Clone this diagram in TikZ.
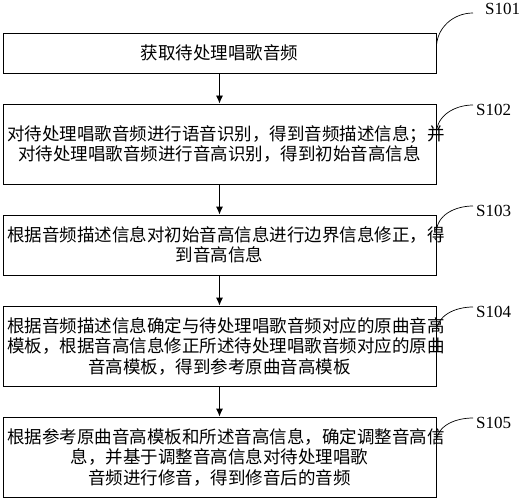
\documentclass[tikz,border=0pt]{standalone}
\usepackage{fontspec}
\setmainfont{Liberation Serif}
\newfontfamily\cjk{Noto Sans CJK SC}
\usetikzlibrary{arrows.meta,calc}
\begin{document}
\begin{tikzpicture}[x=1pt,y=-1pt,
  stepbox/.style={draw,line width=0.9pt,minimum width=433pt,text width=425pt,inner xsep=0pt,inner ysep=0pt,align=center,
    font=\cjk\fontsize{17.5}{20.5}\selectfont},
  steplabel/.style={inner sep=0pt,anchor=west,font=\fontsize{17}{18}\selectfont},
  flow/.style={line width=0.9pt,-{Latex[length=8pt,width=7pt]}},
  tag/.style={line width=0.7pt}]
\useasboundingbox (0,0) rectangle (519,500);
\node[stepbox,minimum height=40pt] (b1) at (219.5,53) {获取待处理唱歌音频};
\node[stepbox,minimum height=80pt] (b2) at (219.5,144) {对待处理唱歌音频进行语音识别，得到音频描述信息；并\\对待处理唱歌音频进行音高识别，得到初始音高信息};
\node[stepbox,minimum height=60pt] (b3) at (219.5,245) {根据音频描述信息对初始音高信息进行边界信息修正，得\\到音高信息};
\node[stepbox,minimum height=80pt] (b4) at (219.5,346) {根据音频描述信息确定与待处理唱歌音频对应的原曲音高\\模板，根据音高信息修正所述待处理唱歌音频对应的原曲\\音高模板，得到参考原曲音高模板};
\node[stepbox,minimum height=80pt] (b5) at (219.5,457) {根据参考原曲音高模板和所述音高信息，确定调整音高信\\息，并基于调整音高信息对待处理唱歌\\音频进行修音，得到修音后的音频};
\draw[flow] (b1) -- (b2);
\draw[flow] (b2) -- (b3);
\draw[flow] (b3) -- (b4);
\draw[flow] (b4) -- (b5);
\coordinate (e1) at (473,13);
\coordinate (e2) at (473,105);
\coordinate (e3) at (473,206);
\coordinate (e4) at (473,307);
\coordinate (e5) at (473,418);
\node[steplabel] (l1) at (485,9) {S101};
\node[steplabel] (l2) at (476,110) {S102};
\node[steplabel] (l3) at (476,211) {S103};
\node[steplabel] (l4) at (476,312) {S104};
\node[steplabel] (l5) at (476,423) {S105};
\draw[tag] ($(b1.north east)+(0,15)$) to[out=90,in=180] (e1);
\draw[tag] ($(b2.north east)+(0,30)$) to[out=90,in=180] (e2);
\draw[tag] ($(b3.north east)+(0,18)$) to[out=90,in=180] (e3);
\draw[tag] ($(b4.north east)+(0,27)$) to[out=90,in=180] (e4);
\draw[tag] ($(b5.north east)+(0,26)$) to[out=90,in=180] (e5);
\end{tikzpicture}
\end{document}
